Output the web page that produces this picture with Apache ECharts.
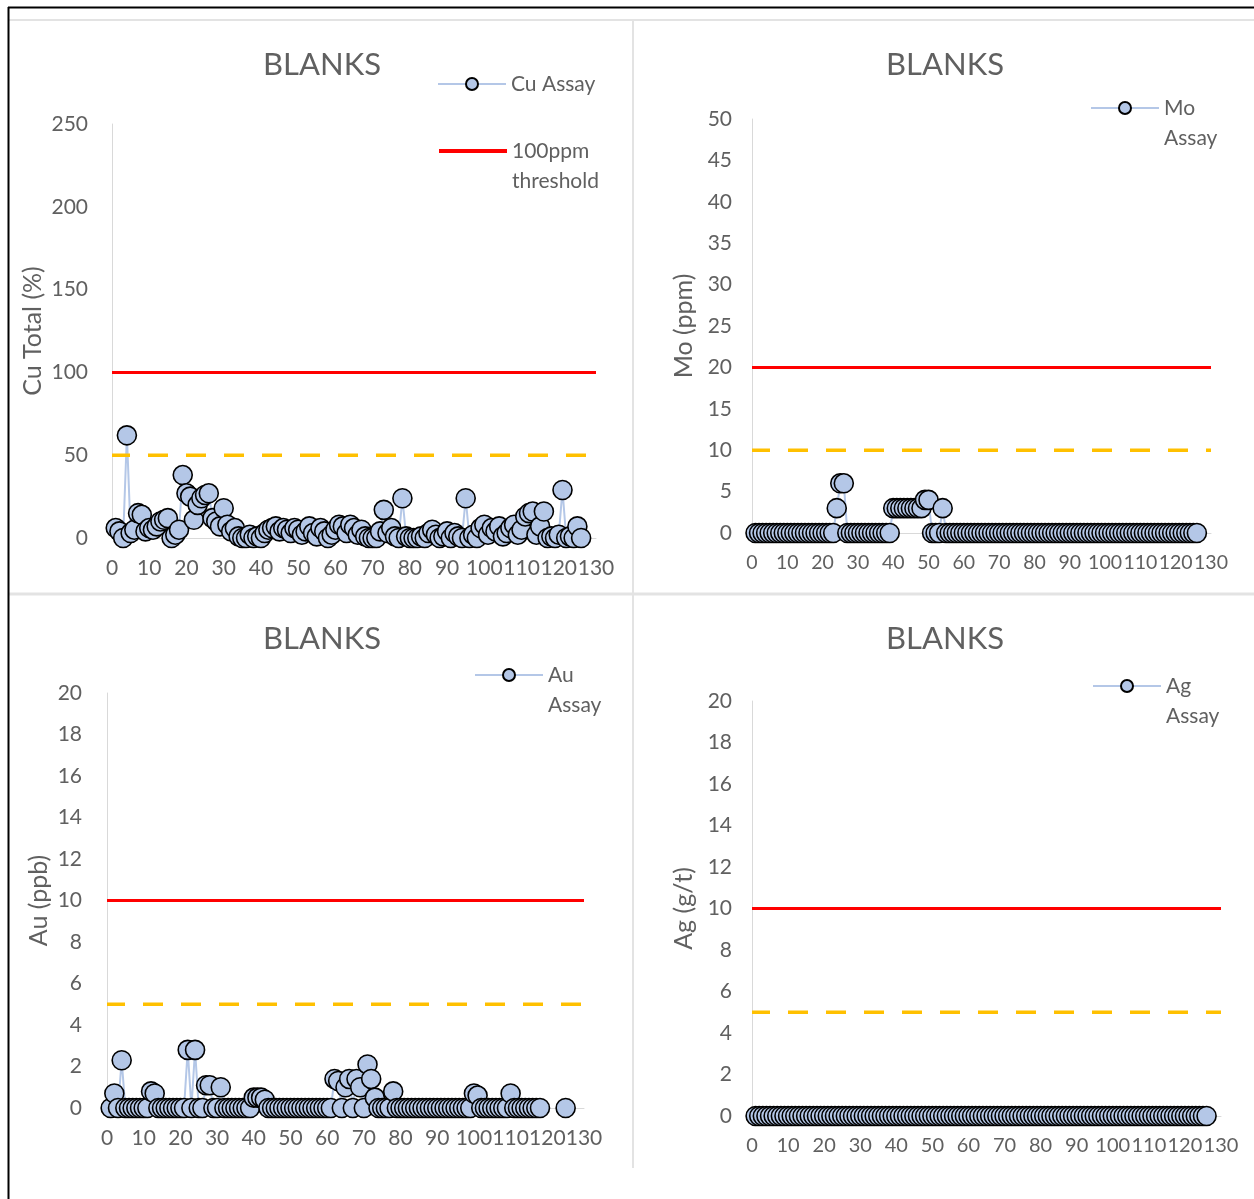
<!DOCTYPE html>
<html>
<head>
<meta charset="utf-8">
<title>BLANKS</title>
<script src="https://cdn.jsdelivr.net/npm/echarts@6/dist/echarts.min.js"></script>
<style>
  html, body { margin: 0; padding: 0; background: #fff; }
  #main { width: 1254px; height: 1199px; }
</style>
</head>
<body>
<div id="main"></div>
<script>
// blank samples, numbered 1..126 along the x axis
var sampleCount = 126;

// Cu assay of each blank
var cuAssay = [
  6, 4, 0, 62, 3, 5, 15, 14, 4, 6,
  5, 7, 10, 11, 12, 0, 2, 5, 38, 27,
  25, 11, 20, 24, 26, 27, 12, 10, 7, 18,
  8, 4, 6, 1, 0, 0, 2, 0, 1, 0,
  3, 5, 6, 7, 4, 6, 5, 3, 6, 5,
  2, 4, 7, 3, 1, 6, 4, 0, 2, 5,
  8, 7, 3, 8, 6, 2, 5, 1, 0, 0,
  0, 4, 17, 3, 6, 1, 0, 24, 1, 0,
  0, 0, 1, 0, 3, 5, 2, 0, 1, 4,
  0, 3, 1, 0, 24, 0, 2, 0, 6, 8,
  2, 6, 4, 7, 1, 3, 6, 8, 2, 5,
  13, 15, 16, 2, 7, 16, 0, 1, 0, 2,
  29, 0, 1, 0, 7, 0
];

// Mo assay of each blank
var moAssay = [
  0, 0, 0, 0, 0, 0, 0, 0, 0, 0,
  0, 0, 0, 0, 0, 0, 0, 0, 0, 0,
  0, 0, 0, 3, 6, 6, 0, 0, 0, 0,
  0, 0, 0, 0, 0, 0, 0, 0, 0, 3,
  3, 3, 3, 3, 3, 3, 3, 3, 4, 4,
  0, 0, 0, 3, 0, 0, 0, 0, 0, 0,
  0, 0, 0, 0, 0, 0, 0, 0, 0, 0,
  0, 0, 0, 0, 0, 0, 0, 0, 0, 0,
  0, 0, 0, 0, 0, 0, 0, 0, 0, 0,
  0, 0, 0, 0, 0, 0, 0, 0, 0, 0,
  0, 0, 0, 0, 0, 0, 0, 0, 0, 0,
  0, 0, 0, 0, 0, 0, 0, 0, 0, 0,
  0, 0, 0, 0, 0, 0
];

// Au assay of each blank ('-' = not assayed)
var auAssay = [
  0, 0.7, 0, 2.3, 0, 0, 0, 0, 0, 0,
  0, 0.8, 0.7, 0, 0, 0, 0, 0, 0, 0,
  0, 2.8, 0, 2.8, 0, 0, 1.1, 1.1, 0, 0,
  1.0, 0, 0, 0, 0, 0, 0, 0, 0, 0.5,
  0.5, 0.5, 0.4, 0, 0, 0, 0, 0, 0, 0,
  0, 0, 0, 0, 0, 0, 0, 0, 0, 0,
  0, 1.4, 1.3, 0, 1.0, 1.4, 0, 1.4, 1.0, 0,
  2.1, 1.4, 0.5, 0, 0, 0, 0, 0.8, 0, 0,
  0, 0, 0, 0, 0, 0, 0, 0, 0, 0,
  0, 0, 0, 0, 0, 0, 0, 0, 0, 0.7,
  0.6, 0, 0, 0, 0, 0, 0, 0, 0, 0.7,
  0, 0, 0, 0, 0, 0, 0, 0, '-', '-',
  '-', '-', '-', '-', 0, '-'
];

// Ag assay of each blank
var agAssay = [
  0, 0, 0, 0, 0, 0, 0, 0, 0, 0,
  0, 0, 0, 0, 0, 0, 0, 0, 0, 0,
  0, 0, 0, 0, 0, 0, 0, 0, 0, 0,
  0, 0, 0, 0, 0, 0, 0, 0, 0, 0,
  0, 0, 0, 0, 0, 0, 0, 0, 0, 0,
  0, 0, 0, 0, 0, 0, 0, 0, 0, 0,
  0, 0, 0, 0, 0, 0, 0, 0, 0, 0,
  0, 0, 0, 0, 0, 0, 0, 0, 0, 0,
  0, 0, 0, 0, 0, 0, 0, 0, 0, 0,
  0, 0, 0, 0, 0, 0, 0, 0, 0, 0,
  0, 0, 0, 0, 0, 0, 0, 0, 0, 0,
  0, 0, 0, 0, 0, 0, 0, 0, 0, 0,
  0, 0, 0, 0, 0, 0
];

// threshold (red) and half threshold (dashed) of each chart
var cuLimits = [100, 50];
var moLimits = [20, 10];
var auLimits = [10, 5];
var agLimits = [10, 5];

// x axis: min, max, step ; y axes: max, step
var xScale = [0, 130, 10];
var cuScale = [250, 50];
var moScale = [50, 5];
var auScale = [20, 2];
var agScale = [20, 2];

var FONT = 'Lato';
var GREY = '#606060';

function points(values) {
  var out = [];
  for (var i = 0; i < sampleCount; i++) {
    out.push([i + 1, values[i]]);
  }
  return out;
}

function flat(v) {
  return [[xScale[0], v], [xScale[1], v]];
}

// narrow panels get a slightly smaller font so 120 and 130 both fit
function xAxisFor(idx, size) {
  return {
    type: 'value', gridIndex: idx,
    min: xScale[0], max: xScale[1], interval: xScale[2],
    axisLine: { show: true, lineStyle: { color: '#d9d9d9', width: 1 } },
    axisTick: { show: false },
    splitLine: { show: false },
    axisLabel: {
      color: GREY, fontSize: size, fontFamily: FONT, margin: 20,
      showMinLabel: true, showMaxLabel: true, hideOverlap: false
    }
  };
}

function yAxisFor(idx, name, scale, gap, lblGap) {
  return {
    type: 'value', gridIndex: idx,
    min: 0, max: scale[0], interval: scale[1],
    name: name, nameLocation: 'middle', nameGap: gap,
    nameTextStyle: { color: GREY, fontSize: 25, fontFamily: FONT },
    axisLine: { show: true, lineStyle: { color: '#d9d9d9', width: 1 } },
    axisTick: { show: false },
    splitLine: { show: false },
    axisLabel: { color: GREY, fontSize: 21, fontFamily: FONT, margin: lblGap }
  };
}

function assaySeries(idx, name, values) {
  return {
    name: name, type: 'line',
    xAxisIndex: idx, yAxisIndex: idx,
    data: points(values),
    symbol: 'circle', symbolSize: 19,
    showAllSymbol: true,
    connectNulls: false,
    lineStyle: { color: '#b4c7e7', width: 2 },
    itemStyle: { color: '#b4c7e7', borderColor: '#000', borderWidth: 1.6 },
    emphasis: { disabled: true },
    animation: false
  };
}

function redSeries(idx, name, v) {
  return {
    name: name, type: 'line',
    xAxisIndex: idx, yAxisIndex: idx,
    data: flat(v), symbol: 'none',
    lineStyle: { color: '#ff0000', width: 3 },
    itemStyle: { color: '#ff0000', opacity: 0 },
    emphasis: { disabled: true },
    animation: false
  };
}

function dashSeries(idx, name, v) {
  return {
    name: name, type: 'line',
    xAxisIndex: idx, yAxisIndex: idx,
    data: flat(v), symbol: 'none',
    lineStyle: { color: '#ffc000', width: 3.5, type: [20, 18], dashOffset: 2 },
    emphasis: { disabled: true },
    animation: false
  };
}

function titleAt(x, y) {
  return {
    text: 'BLANKS', left: x, top: y, textAlign: 'center', padding: 0,
    textStyle: { color: GREY, fontSize: 31, fontWeight: 'normal', fontFamily: FONT }
  };
}

// legend whose text wraps onto a second line under the icon
function legendAt(name, x, y, isThreshold) {
  var lg = {
    data: [name], left: x, top: y, orient: 'vertical', padding: 0,
    itemWidth: 68, itemHeight: 15,
    formatter: function (n) { return '\n' + n.replace(' ', '\n'); },
    textStyle: { color: GREY, fontSize: 21, fontFamily: FONT, lineHeight: 30 },
    selectedMode: false
  };
  if (isThreshold) {
    lg.itemStyle = { opacity: 0 };
    lg.lineStyle = { width: 4 };
  }
  return lg;
}

var chart = echarts.init(document.getElementById('main'));

var option = {
  backgroundColor: '#fff',
  animation: false,
  title: [titleAt(322, 49), titleAt(945, 49), titleAt(322, 623), titleAt(945, 623)],
  legend: [
    {
      data: ['Cu Assay'], left: 437, top: 69, padding: 0,
      itemWidth: 68, itemHeight: 15, selectedMode: false,
      textStyle: { color: GREY, fontSize: 21, fontFamily: FONT, lineHeight: 30 }
    },
    legendAt('100ppm threshold', 437, 106, true),
    legendAt('Mo Assay', 1090, 63, false),
    legendAt('Au Assay', 474, 630, false),
    legendAt('Ag Assay', 1092, 641, false)
  ],
  grid: [
    { left: 112, top: 124, width: 484, height: 414 },
    { left: 752, top: 119, width: 459, height: 414 },
    { left: 107, top: 693, width: 477, height: 415 },
    { left: 752, top: 701, width: 469, height: 415 }
  ],
  xAxis: [xAxisFor(0, 21), xAxisFor(1, 19.5), xAxisFor(2, 21), xAxisFor(3, 20)],
  yAxis: [
    yAxisFor(0, 'Cu Total (%)', cuScale, 67, 24),
    yAxisFor(1, 'Mo (ppm)', moScale, 56, 20),
    yAxisFor(2, 'Au (ppb)', auScale, 56, 25),
    yAxisFor(3, 'Ag (g/t)', agScale, 56, 20)
  ],
  series: [
    assaySeries(0, 'Cu Assay', cuAssay),
    redSeries(0, '100ppm threshold', cuLimits[0]),
    dashSeries(0, 'Cu half threshold', cuLimits[1]),
    assaySeries(1, 'Mo Assay', moAssay),
    redSeries(1, 'Mo threshold', moLimits[0]),
    dashSeries(1, 'Mo half threshold', moLimits[1]),
    assaySeries(2, 'Au Assay', auAssay),
    redSeries(2, 'Au threshold', auLimits[0]),
    dashSeries(2, 'Au half threshold', auLimits[1]),
    assaySeries(3, 'Ag Assay', agAssay),
    redSeries(3, 'Ag threshold', agLimits[0]),
    dashSeries(3, 'Ag half threshold', agLimits[1])
  ],
  // frame of the four chart panels
  graphic: [
    { type: 'line', shape: { x1: 9, y1: 20, x2: 1254, y2: 20 }, style: { stroke: '#e3e3e3', lineWidth: 2 }, silent: true },
    { type: 'line', shape: { x1: 633, y1: 20, x2: 633, y2: 1168 }, style: { stroke: '#e3e3e3', lineWidth: 2 }, silent: true },
    { type: 'line', shape: { x1: 9, y1: 594, x2: 1254, y2: 594 }, style: { stroke: '#e3e3e3', lineWidth: 3 }, silent: true },
    { type: 'line', shape: { x1: 8.5, y1: 7, x2: 8.5, y2: 1199 }, style: { stroke: '#000', lineWidth: 2 }, silent: true },
    { type: 'line', shape: { x1: 8, y1: 7.5, x2: 1254, y2: 7.5 }, style: { stroke: '#000', lineWidth: 2 }, silent: true }
  ]
};

chart.setOption(option);
</script>
</body>
</html>
